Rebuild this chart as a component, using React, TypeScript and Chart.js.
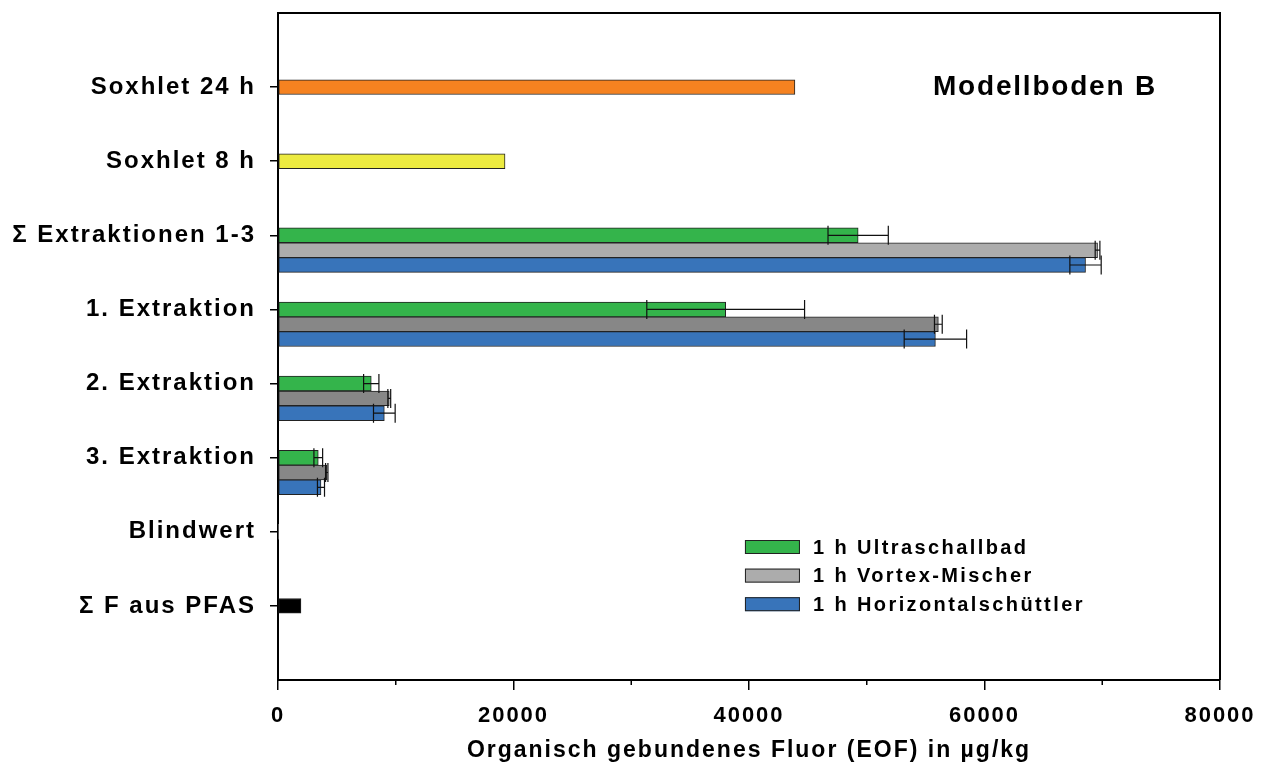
import React, { useEffect, useRef } from 'react';
import { Chart, registerables } from 'chart.js';

Chart.register(...registerables);

// ---------- data ----------
const categories = [
  'Soxhlet 24 h',
  'Soxhlet 8 h',
  'Σ Extraktionen 1-3',
  '1. Extraktion',
  '2. Extraktion',
  '3. Extraktion',
  'Blindwert',
  'Σ F aus PFAS',
];
// categories that hold the three extraction methods
const methodCategories = ['Σ Extraktionen 1-3', '1. Extraktion', '2. Extraktion', '3. Extraktion'];
const seriesLabels = ['1 h Ultraschallbad', '1 h Vortex-Mischer', '1 h Horizontalschüttler'];

const ultraschall = [49270, 38020, 7920, 3420];
const ultraschallErr = [2560, 6700, 650, 370];
const vortex = [69600, 56080, 9450, 4140];
const vortexErr = [200, 330, 120, 100];
const horizontal = [68580, 55830, 9030, 3650];
const horizontalErr = [1330, 2650, 920, 300];

const singleCategories = ['Soxhlet 24 h', 'Soxhlet 8 h', 'Blindwert', 'Σ F aus PFAS'];
const singleValues = [43900, 19280, 0, 1950];

const xTicks = [0, 20000, 40000, 60000, 80000];
const xMinorStep = 10000;
const chartTitle = 'Modellboden B';
const xTitle = 'Organisch gebundenes Fluor (EOF) in µg/kg';

// ---------- styles ----------
const FONT = '"Liberation Sans", Arial, sans-serif';
const greenColor = '#34b44b';
const grayLight = '#acacac';
const grayDark = '#878787';
const blueColor = '#3874ba';
const singleColors = ['#f58220', '#ecea40', '#ffffff', '#000000'];
const BAR_STEP = 0.2; // offset between bars of a group (in category units)

const catPos = (name: string) => categories.indexOf(name) + 1;

const errorMap: Record<number, number[]> = {
  0: ultraschallErr,
  1: vortexErr,
  2: horizontalErr,
};

const spacingPlugin = {
  id: 'spacing',
  beforeDraw(chart: any) {
    chart.ctx.letterSpacing = '2px';
  },
};

const errorBarPlugin = {
  id: 'errorBars',
  afterDatasetsDraw(chart: any) {
    const ctx = chart.ctx;
    const xs = chart.scales.x;
    ctx.save();
    ctx.strokeStyle = '#111';
    ctx.lineWidth = 1.2;
    Object.keys(errorMap).forEach((k) => {
      const di = Number(k);
      const meta = chart.getDatasetMeta(di);
      const ds = chart.data.datasets[di];
      const errs = errorMap[di];
      meta.data.forEach((el: any, i: number) => {
        const v = ds.data[i].x;
        const e = errs[i];
        const y = el.y;
        const x1 = xs.getPixelForValue(v - e);
        const x2 = xs.getPixelForValue(v + e);
        const h = 9.5;
        ctx.beginPath();
        ctx.moveTo(x1, y);
        ctx.lineTo(x2, y);
        ctx.moveTo(x1, y - h);
        ctx.lineTo(x1, y + h);
        ctx.moveTo(x2, y - h);
        ctx.lineTo(x2, y + h);
        ctx.stroke();
      });
    });
    ctx.restore();
  },
};

const framePlugin = {
  id: 'frame',
  afterDraw(chart: any) {
    const ctx = chart.ctx;
    const { left, right, top, bottom, width, height } = chart.chartArea;
    const xs = chart.scales.x;
    const ys = chart.scales.y;
    ctx.save();
    ctx.letterSpacing = '0px';
    ctx.strokeStyle = '#000';
    ctx.lineWidth = 2;
    ctx.beginPath();
    ctx.moveTo(left, top);
    ctx.lineTo(right, top);
    ctx.lineTo(right, bottom);
    ctx.stroke();
    // minor ticks
    ctx.lineWidth = 1.5;
    for (let v = xs.min; v <= xs.max; v += xMinorStep) {
      if (xTicks.includes(v)) continue;
      const px = xs.getPixelForValue(v);
      ctx.beginPath();
      ctx.moveTo(px, bottom);
      ctx.lineTo(px, bottom + 5);
      ctx.stroke();
    }
    // chart title
    ctx.letterSpacing = '1.8px';
    ctx.fillStyle = '#000';
    ctx.font = `bold 28px ${FONT}`;
    ctx.textAlign = 'right';
    ctx.textBaseline = 'middle';
    ctx.fillText(chartTitle, right - 63, ys.getPixelForValue(1));
    // legend
    ctx.letterSpacing = '2.4px';
    ctx.font = `bold 20px ${FONT}`;
    ctx.textAlign = 'left';
    const legendColors = [greenColor, grayLight, blueColor];
    const lx = left + width * 0.4957;
    const ly0 = top + height * 0.8006;
    legendColors.forEach((c, i) => {
      const cy = ly0 + i * 28.6;
      ctx.fillStyle = c;
      ctx.fillRect(lx, cy - 7, 55, 14);
      ctx.strokeStyle = '#222';
      ctx.lineWidth = 1;
      ctx.strokeRect(lx + 0.5, cy - 6.5, 54, 13);
      ctx.fillStyle = '#000';
      ctx.fillText(seriesLabels[i], lx + 68, cy + 1);
    });
    ctx.restore();
  },
};

export default function App() {
  const ref = useRef<HTMLCanvasElement>(null);

  useEffect(() => {
    if (!ref.current) return;
    const barCommon = {
      barThickness: 14.8,
      borderColor: '#222',
      borderWidth: 1,
      borderSkipped: false,
      grouped: false,
    };
    const chart = new Chart(ref.current, {
      type: 'bar',
      data: {
        datasets: [
          {
            ...barCommon,
            label: seriesLabels[0],
            data: ultraschall.map((v, i) => ({ x: v, y: catPos(methodCategories[i]) })),
            backgroundColor: greenColor,
          },
          {
            ...barCommon,
            label: seriesLabels[1],
            data: vortex.map((v, i) => ({ x: v, y: catPos(methodCategories[i]) + BAR_STEP })),
            backgroundColor: vortex.map((_, i) => (i === 0 ? grayLight : grayDark)),
          },
          {
            ...barCommon,
            label: seriesLabels[2],
            data: horizontal.map((v, i) => ({ x: v, y: catPos(methodCategories[i]) + 2 * BAR_STEP })),
            backgroundColor: blueColor,
          },
          {
            ...barCommon,
            label: 'single',
            data: singleValues.map((v, i) => ({ x: v, y: catPos(singleCategories[i]) })),
            backgroundColor: singleColors,
            borderWidth: singleValues.map((v) => (v === 0 ? 0 : 1)),
          },
        ],
      } as any,
      options: {
        indexAxis: 'y',
        animation: false,
        responsive: false,
        layout: { padding: { top: 13, right: 55, left: 0, bottom: 0 } },
        plugins: {
          legend: { display: false },
          tooltip: { enabled: false },
        },
        scales: {
          x: {
            type: 'linear',
            min: 0,
            max: 80000,
            offset: false,
            afterBuildTicks: (scale: any) => {
              scale.ticks = xTicks.map((v) => ({ value: v }));
            },
            ticks: {
              color: '#000',
              font: { family: FONT, size: 22, weight: 'bold' },
              padding: 13,
              maxRotation: 0,
              callback: (v: any) => String(v),
            },
            grid: {
              drawOnChartArea: false,
              tickLength: 10,
              color: '#000',
              lineWidth: 1.5,
              offset: false,
            },
            border: { color: '#000', width: 2 },
            title: {
              display: true,
              text: xTitle,
              color: '#000',
              font: { family: FONT, size: 23, weight: 'bold' },
              padding: { top: 0, bottom: 9 },
            },
            afterFit: (scale: any) => {
              scale.height = 93;
              scale.paddingLeft = 0;
              scale.paddingRight = 0;
            },
          },
          y: {
            type: 'linear',
            min: 0,
            max: 9,
            reverse: true,
            offset: false,
            afterBuildTicks: (scale: any) => {
              scale.ticks = categories.map((_, i) => ({ value: i + 1 }));
            },
            ticks: {
              color: '#000',
              font: { family: FONT, size: 24, weight: 'bold' },
              padding: 14,
              autoSkip: false,
              callback: (v: any) => categories[Number(v) - 1] ?? '',
            },
            grid: {
              drawOnChartArea: false,
              tickLength: 8,
              color: '#000',
              lineWidth: 1.5,
              offset: false,
            },
            border: { color: '#000', width: 2 },
            afterFit: (scale: any) => {
              scale.width = 278;
              scale.paddingTop = 0;
              scale.paddingBottom = 0;
            },
          },
        },
      } as any,
      plugins: [spacingPlugin, errorBarPlugin, framePlugin],
    });
    return () => chart.destroy();
  }, []);

  return (
    <canvas
      ref={ref}
      width={1275}
      height={773}
      style={{ position: 'absolute', left: 0, top: 0, display: 'block', background: '#fff' }}
    />
  );
}
